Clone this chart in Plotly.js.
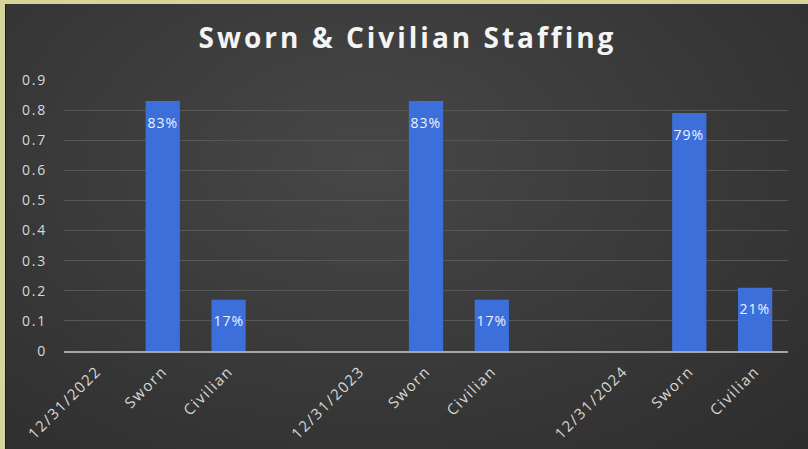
<!DOCTYPE html>
<html>
<head>
<meta charset="utf-8">
<script src="https://cdn.plot.ly/plotly-3.0.1.min.js"></script>
<style>
  html, body { margin: 0; padding: 0; width: 808px; height: 449px; overflow: hidden; background: #d7d49b; }
  #frame { position: absolute; left: 5px; top: 4px; width: 803px; height: 445px;
    background: radial-gradient(ellipse at 45% 35%, #474747 0%, #3b3b3b 45%, #2d2d2d 100%);
    border-left: 1px solid #1e1e1e; box-sizing: border-box; }
  #chart { width: 803px; height: 445px; }
  #chart .gtitle { letter-spacing: 3px; }
  #chart .xtick text { letter-spacing: 1.6px; }
  #chart .ytick text { letter-spacing: 1.8px; }
  #chart .annotation-text { letter-spacing: 1px; }
</style>
</head>
<body>
<div id="frame"><div id="chart"></div></div>
<script>
const categories = ["12/31/2022", "Sworn", "Civilian", "", "12/31/2023", "Sworn", "Civilian", "", "12/31/2024", "Sworn", "Civilian"];
const shares = [null, 0.83, 0.17, null, null, 0.83, 0.17, null, null, 0.79, 0.21];
const yTicks = [0, 0.1, 0.2, 0.3, 0.4, 0.5, 0.6, 0.7, 0.8, 0.9];
const yTickLabels = ["0", "0.1", "0.2", "0.3", "0.4", "0.5", "0.6", "0.7", "0.8", "0.9"];

const idx = categories.map((c, i) => i);

const trace = {
  type: 'bar',
  x: idx,
  y: shares,
  width: 0.52,
  marker: { color: '#3d6fdb', line: { width: 0 } },
  hoverinfo: 'none'
};

const labels = [];
shares.forEach((v, i) => {
  if (v === null) return;
  labels.push({
    x: i, y: v, xref: 'x', yref: 'y',
    text: Math.round(v * 100) + '%',
    showarrow: false,
    yanchor: 'middle', xanchor: 'center',
    yshift: -21,
    font: { family: 'Open Sans, sans-serif', size: 14, color: '#eef2fb' }
  });
});

const layout = {
  width: 803, height: 445,
  paper_bgcolor: 'rgba(0,0,0,0)',
  plot_bgcolor: 'rgba(0,0,0,0)',
  margin: { l: 58, r: 21, t: 76, b: 98 },
  showlegend: false,
  annotations: labels,
  title: {
    text: '<b>Sworn &amp; Civilian Staffing</b>',
    font: { family: 'Open Sans, sans-serif', size: 28, color: '#f4f4f4' },
    x: 0.5, xanchor: 'center',
    y: 1 - 34 / 445, yref: 'container', yanchor: 'middle'
  },
  xaxis: {
    range: [-0.5, categories.length - 0.5],
    tickvals: idx,
    ticktext: categories,
    tickangle: -45,
    tickfont: { family: 'Open Sans, sans-serif', size: 15, color: '#d9d9d9' },
    showgrid: false,
    zeroline: false,
    showline: true,
    linecolor: '#a6a6a6',
    linewidth: 1.5,
    ticks: '',
    ticklabelstandoff: 4,
    fixedrange: true
  },
  yaxis: {
    range: [0, 0.9],
    tickvals: yTicks,
    ticktext: yTickLabels,
    tickfont: { family: 'Open Sans, sans-serif', size: 14, color: '#d9d9d9' },
    showgrid: true,
    gridcolor: '#575757',
    gridwidth: 1,
    zeroline: false,
    showline: false,
    ticks: '',
    ticklabelstandoff: 16,
    fixedrange: true
  }
};

Plotly.newPlot('chart', [trace], layout, { displayModeBar: false, staticPlot: true });
</script>
</body>
</html>
